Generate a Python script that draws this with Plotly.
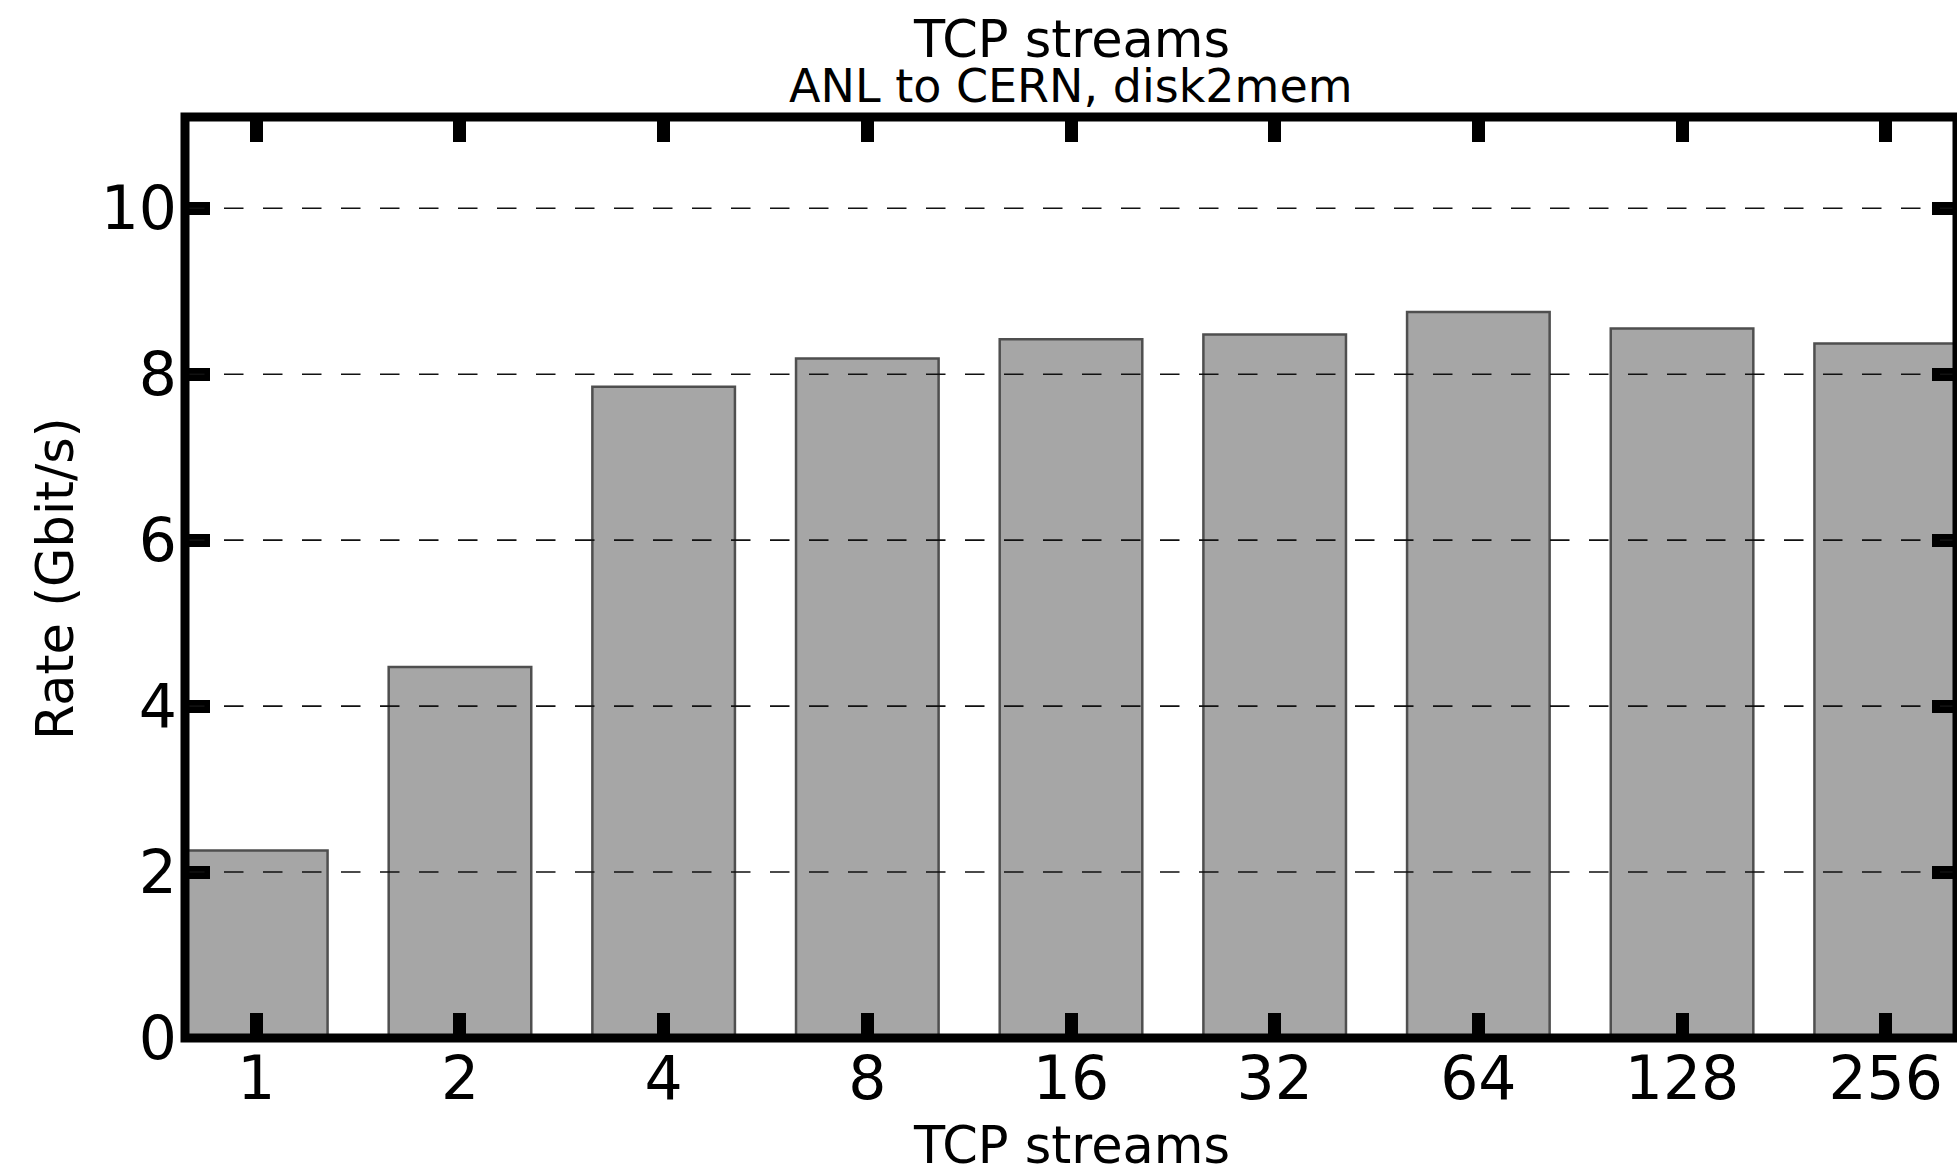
import plotly.graph_objects as go

# TCP stream counts and measured transfer rates (Gbit/s), ANL -> CERN, disk2mem
streams = ["1", "2", "4", "8", "16", "32", "64", "128", "256"]
rate_gbit = [2.26, 4.47, 7.85, 8.19, 8.42, 8.48, 8.75, 8.55, 8.37]
y_ticks = [0, 2, 4, 6, 8, 10]

W, H = 1957, 1175
PLOT_L, PLOT_R, PLOT_T, PLOT_B = 185, 1957, 117, 1038
FONT = "DejaVu Sans"


def py(pix):
    """Convert a pixel row into paper y coordinate."""
    return (PLOT_B - pix) / (PLOT_B - PLOT_T)


fig = go.Figure(
    go.Bar(
        x=streams,
        y=rate_gbit,
        width=0.7,
        marker=dict(color="#a6a6a6", line=dict(color="#4f4f4f", width=2.5)),
    )
)

tick_font = dict(family=FONT, size=60, color="black")

fig.update_xaxes(
    type="category",
    range=[-0.35, len(streams) - 1 + 0.35],
    showgrid=False,
    zeroline=False,
    showline=False,
    ticks="inside",
    ticklen=25,
    tickwidth=13,
    tickcolor="black",
    mirror="allticks",
    tickfont=tick_font,
    ticklabelstandoff=0,
)
fig.update_yaxes(
    range=[0, 11.1],
    tickvals=y_ticks,
    ticktext=[str(v) for v in y_ticks],
    showgrid=False,
    zeroline=False,
    showline=False,
    ticks="inside",
    ticklen=25,
    tickwidth=13,
    tickcolor="black",
    mirror="allticks",
    tickfont=tick_font,
    ticklabelstandoff=7,
)

shapes = []
# dashed horizontal grid drawn over the bars
for v in y_ticks[1:]:
    shapes.append(dict(
        type="line", xref="paper", yref="y", x0=0, x1=1, y0=v, y1=v,
        line=dict(color="#111111", width=1.6, dash="19.5px,19.5px"),
        layer="above",
    ))
# heavy frame around the plotting area
shapes.append(dict(
    type="rect", xref="paper", yref="paper", x0=0, x1=1, y0=0, y1=1,
    line=dict(color="black", width=9), fillcolor="rgba(0,0,0,0)", layer="above",
))

annotations = [
    dict(text="TCP streams", xref="paper", yref="paper", x=0.5, y=py(40),
         xanchor="center", yanchor="middle", showarrow=False,
         font=dict(family=FONT, size=51, color="black")),
    dict(text="ANL to CERN, disk2mem", xref="paper", yref="paper", x=0.5, y=py(86),
         xanchor="center", yanchor="middle", showarrow=False,
         font=dict(family=FONT, size=46, color="black")),
    dict(text="TCP streams", xref="paper", yref="paper", x=0.5, y=py(1145),
         xanchor="center", yanchor="middle", showarrow=False,
         font=dict(family=FONT, size=51, color="black")),
    dict(text="Rate (Gbit/s)", xref="paper", yref="paper",
         x=(55 - PLOT_L) / (PLOT_R - PLOT_L), y=py(579),
         xanchor="center", yanchor="middle", textangle=-90, showarrow=False,
         font=dict(family=FONT, size=51, color="black")),
]

fig.update_layout(
    width=W,
    height=H,
    margin=dict(l=PLOT_L, r=W - PLOT_R, t=PLOT_T, b=H - PLOT_B, pad=0),
    paper_bgcolor="white",
    plot_bgcolor="white",
    showlegend=False,
    shapes=shapes,
    annotations=annotations,
    font=dict(family=FONT, color="black"),
)

fig.write_html("out.html")
